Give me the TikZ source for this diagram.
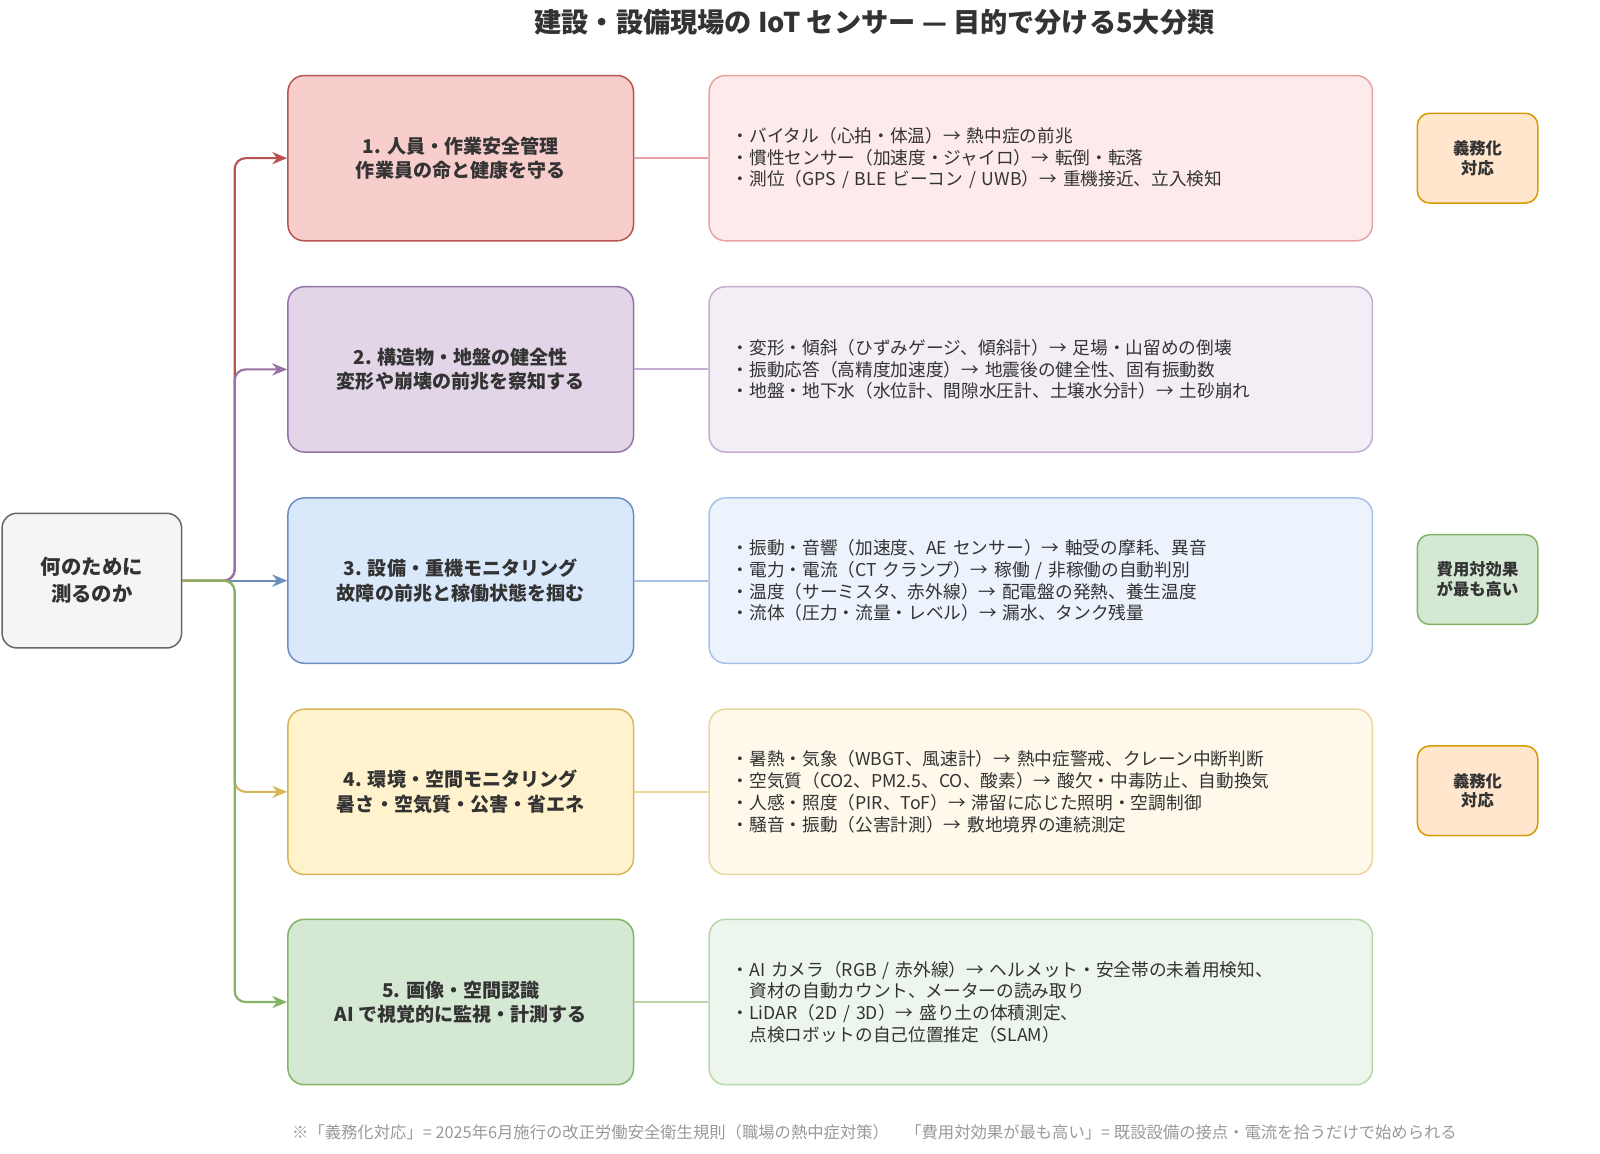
\documentclass[tikz,border=0pt]{standalone}
\usepackage{fontspec}
\setmainfont{Noto Sans CJK JP}
\usetikzlibrary{arrows.meta}

\definecolor{rootfill}{HTML}{F5F5F5}
\definecolor{rootline}{HTML}{666666}
\definecolor{c1fill}{HTML}{F8CECC}
\definecolor{c1line}{HTML}{B85450}
\definecolor{d1fill}{HTML}{FDEAEA}
\definecolor{d1line}{HTML}{E8A3A1}
\definecolor{c2fill}{HTML}{E1D5E7}
\definecolor{c2line}{HTML}{9673A6}
\definecolor{d2fill}{HTML}{F3EEF6}
\definecolor{d2line}{HTML}{C5ADD2}
\definecolor{c3fill}{HTML}{DAE8FC}
\definecolor{c3line}{HTML}{6C8EBF}
\definecolor{d3fill}{HTML}{ECF3FD}
\definecolor{d3line}{HTML}{A7C2E8}
\definecolor{c4fill}{HTML}{FFF2CC}
\definecolor{c4line}{HTML}{D6B656}
\definecolor{d4fill}{HTML}{FFF9EB}
\definecolor{d4line}{HTML}{EAD79C}
\definecolor{c5fill}{HTML}{D5E8D4}
\definecolor{c5line}{HTML}{82B366}
\definecolor{d5fill}{HTML}{EDF6EC}
\definecolor{d5line}{HTML}{B7D7AA}
\definecolor{dutyfill}{HTML}{FFE6CC}
\definecolor{dutyline}{HTML}{D79B00}
\definecolor{inkgray}{HTML}{333333}
\definecolor{notegray}{HTML}{999999}

\begin{document}
\begin{tikzpicture}
        [x=0.75pt, y=-0.75pt, text=inkgray,
        root/.style={rounded corners=11pt, line width=1.1pt, fill=rootfill, draw=rootline,
          minimum width=132pt, minimum height=99pt, align=center,
          font=\fontsize{15}{20}\selectfont\bfseries},
        cat/.style={rounded corners=12pt, line width=1.1pt, fill=#1fill, draw=#1line,
          minimum width=254pt, minimum height=121.5pt, align=center,
          font=\fontsize{14}{18}\selectfont\bfseries},
        detail/.style={rounded corners=12pt, line width=1.1pt, fill=#1fill, draw=#1line,
          text width=454.5pt, inner xsep=16.5pt, minimum height=121.5pt, align=left,
          font=\fontsize{13}{16}\selectfont},
        badge/.style={rounded corners=9pt, line width=1.1pt, fill=#1fill, draw=#1line,
          minimum width=88.5pt, minimum height=66pt, align=center,
          font=\fontsize{12}{14.5}\selectfont\bfseries},
        link/.style={draw=#1, line width=1.6pt, rounded corners=8pt,
          -{Stealth[length=11pt, width=9pt]}},
        tie/.style={draw=#1, line width=1.6pt}]

        \useasboundingbox (0,0) rectangle (1568,1130);

        % title
        \node[font=\fontsize{20}{24}\selectfont\bfseries] (title) at (857,22)
          {建設・設備現場の IoT センサー — 目的で分ける5大分類};

        % root question
        \node[root] (root) at (90,569) {何のために\\測るのか};

        % five purposes
        \node[cat=c1] (c1) at (451.5,155) {1. 人員・作業安全管理\\作業員の命と健康を守る};
        \node[cat=c2] (c2) at (451.5,362) {2. 構造物・地盤の健全性\\変形や崩壊の前兆を察知する};
        \node[cat=c3] (c3) at (451.5,569) {3. 設備・重機モニタリング\\故障の前兆と稼働状態を掴む};
        \node[cat=c4] (c4) at (451.5,776) {4. 環境・空間モニタリング\\暑さ・空気質・公害・省エネ};
        \node[cat=c5] (c5) at (451.5,982) {5. 画像・空間認識\\AI で視覚的に監視・計測する};

        % sensors for each purpose
        \node[detail=d1] (d1) at (1020,155)
          {・バイタル（心拍・体温）→ 熱中症の前兆\\
           ・慣性センサー（加速度・ジャイロ）→ 転倒・転落\\
           ・測位（GPS / BLE ビーコン / UWB）→ 重機接近、立入検知};
        \node[detail=d2] (d2) at (1020,362)
          {・変形・傾斜（ひずみゲージ、傾斜計）→ 足場・山留めの倒壊\\
           ・振動応答（高精度加速度）→ 地震後の健全性、固有振動数\\
           ・地盤・地下水（水位計、間隙水圧計、土壌水分計）→ 土砂崩れ};
        \node[detail=d3] (d3) at (1020,569)
          {・振動・音響（加速度、AE センサー）→ 軸受の摩耗、異音\\
           ・電力・電流（CT クランプ）→ 稼働 / 非稼働の自動判別\\
           ・温度（サーミスタ、赤外線）→ 配電盤の発熱、養生温度\\
           ・流体（圧力・流量・レベル）→ 漏水、タンク残量};
        \node[detail=d4] (d4) at (1020,776)
          {・暑熱・気象（WBGT、風速計）→ 熱中症警戒、クレーン中断判断\\
           ・空気質（CO2、PM2.5、CO、酸素）→ 酸欠・中毒防止、自動換気\\
           ・人感・照度（PIR、ToF）→ 滞留に応じた照明・空調制御\\
           ・騒音・振動（公害計測）→ 敷地境界の連続測定};
        \node[detail=d5] (d5) at (1020,982)
          {・AI カメラ（RGB / 赤外線）→ ヘルメット・安全帯の未着用検知、\\
           \hspace*{1em}資材の自動カウント、メーターの読み取り\\
           ・LiDAR（2D / 3D）→ 盛り土の体積測定、\\
           \hspace*{1em}点検ロボットの自己位置推定（SLAM）};

        % badges
        \node[badge=duty] (b1) at (1448,155) {義務化\\対応};
        \node[badge=c5] (b3) at (1448,568) {費用対効果\\が最も高い};
        \node[badge=duty] (b4) at (1448,775) {義務化\\対応};

        % footnote
        \node[text=notegray, font=\fontsize{12}{14}\selectfont] (note) at (857,1110)
          {※「義務化対応」= 2025年6月施行の改正労働安全衛生規則（職場の熱中症対策）\quad 「費用対効果が最も高い」= 既設設備の接点・電流を拾うだけで始められる};

        % branches from the root
        \coordinate (fork) at (230,569);
        \draw[link=c3line] (root.east) -- (c3.west);
        \draw[link=c1line] (root.east) -- (fork) |- (c1.west);
        \draw[link=c2line] (root.east) -- (fork) |- (c2.west);
        \draw[link=c4line] (root.east) -- (fork) |- (c4.west);
        \draw[link=c5line] (root.east) -- (fork) |- (c5.west);

        % purpose to sensors
        \draw[tie=d1line] (c1.east) -- (d1.west);
        \draw[tie=d2line] (c2.east) -- (d2.west);
        \draw[tie=d3line] (c3.east) -- (d3.west);
        \draw[tie=d4line] (c4.east) -- (d4.west);
        \draw[tie=d5line] (c5.east) -- (d5.west);

        \end{tikzpicture}
\end{document}
